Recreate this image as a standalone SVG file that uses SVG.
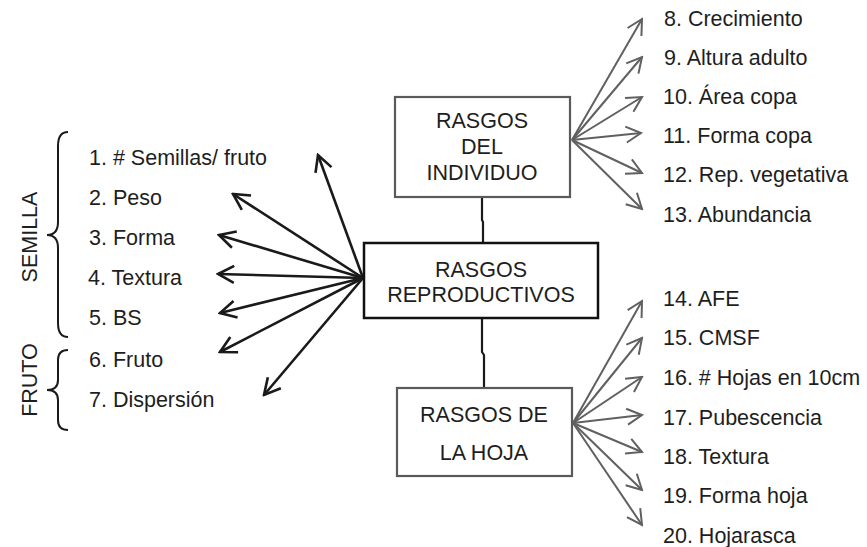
<svg xmlns="http://www.w3.org/2000/svg" width="867" height="547" viewBox="0 0 867 547">
<style>
text{font-family:"Liberation Sans",Arial,sans-serif;font-size:21.5px;fill:#1e1e1e}
.c{text-anchor:middle}
.box{fill:#fff;stroke:#111;stroke-width:2.5}
.gbox{fill:#fff;stroke:#5a5a5a;stroke-width:2.2}
.ka{stroke:#1a1a1a;stroke-width:2.6;fill:none;marker-end:url(#ak)}
.ga{stroke:#606060;stroke-width:2;fill:none;marker-end:url(#ag)}
.br{fill:none;stroke:#1a1a1a;stroke-width:2}
.ln{fill:none;stroke:#1a1a1a;stroke-width:2.2}
</style>
<defs>
<marker id="ak" markerUnits="userSpaceOnUse" viewBox="-20 -12 22 24" markerWidth="22" markerHeight="24" refX="0" refY="0" orient="auto">
<path d="M-16,-8.5 L0,0 L-16,8.5" fill="none" stroke="#1a1a1a" stroke-width="2.6"/>
</marker>
<marker id="ag" markerUnits="userSpaceOnUse" viewBox="-20 -12 22 24" markerWidth="22" markerHeight="24" refX="0" refY="0" orient="auto">
<path d="M-15,-8 L0,0 L-15,8" fill="none" stroke="#606060" stroke-width="2"/>
</marker>
</defs>
<g id="connectors">
<path class="ln" d="M482,197 V220 L483,222 V243"/>
<path class="ln" d="M482,318 V352 L484,355 V388"/>
<line class="ka" x1="363" y1="278" x2="318" y2="155"/>
<line class="ka" x1="363" y1="278" x2="233" y2="194"/>
<line class="ka" x1="363" y1="278" x2="219" y2="235"/>
<line class="ka" x1="363" y1="278" x2="218" y2="274"/>
<line class="ka" x1="363" y1="278" x2="220" y2="313"/>
<line class="ka" x1="363" y1="278" x2="220" y2="352"/>
<line class="ka" x1="363" y1="278" x2="264" y2="395"/>
<line class="ga" x1="572" y1="140" x2="642" y2="19"/>
<line class="ga" x1="572" y1="140" x2="642" y2="57"/>
<line class="ga" x1="572" y1="140" x2="642" y2="97"/>
<line class="ga" x1="572" y1="140" x2="641" y2="133"/>
<line class="ga" x1="572" y1="140" x2="642" y2="173"/>
<line class="ga" x1="572" y1="140" x2="642" y2="209"/>
<line class="ga" x1="573" y1="423" x2="642" y2="301"/>
<line class="ga" x1="573" y1="423" x2="642" y2="338"/>
<line class="ga" x1="573" y1="423" x2="642" y2="377"/>
<line class="ga" x1="573" y1="423" x2="642" y2="415"/>
<line class="ga" x1="573" y1="423" x2="642" y2="452"/>
<line class="ga" x1="573" y1="423" x2="642" y2="490"/>
<line class="ga" x1="573" y1="423" x2="642" y2="525"/>
</g>
<g id="n-reproductivos">
<rect class="box" x="364" y="243" width="234" height="75"/>
<text class="c" x="481" y="277">RASGOS</text>
<text class="c" x="481" y="302">REPRODUCTIVOS</text>
</g>
<g id="n-individuo">
<rect class="gbox" x="395" y="97" width="175" height="100"/>
<text class="c" x="482" y="128">RASGOS</text>
<text class="c" x="482" y="154">DEL</text>
<text class="c" x="482" y="180">INDIVIDUO</text>
</g>
<g id="n-hoja">
<rect class="gbox" x="397" y="388" width="175" height="88"/>
<text class="c" x="484" y="422">RASGOS DE</text>
<text class="c" x="484" y="460">LA HOJA</text>
</g>
<g id="semilla">
<path class="br" d="M68,132 Q58,132 58,146 V222 Q58,235 47,235 Q58,235 58,248 V323 Q58,337 68,337"/>
<text class="c" transform="translate(37,237) rotate(-90)">SEMILLA</text>
<text x="89" y="165">1. # Semillas/ fruto</text>
<text x="89" y="205">2. Peso</text>
<text x="89" y="245">3. Forma</text>
<text x="88" y="285">4. Textura</text>
<text x="89" y="325">5. BS</text>
</g>
<g id="fruto">
<path class="br" d="M68,350 Q58,350 58,360 V380 Q58,390 47,390 Q58,390 58,400 V420 Q58,430 68,430"/>
<text class="c" transform="translate(37,380) rotate(-90)">FRUTO</text>
<text x="89" y="367">6. Fruto</text>
<text x="89" y="407">7. Dispersión</text>
</g>
<g id="individuo-list">
<text x="664" y="26">8. Crecimiento</text>
<text x="664" y="65">9. Altura adulto</text>
<text x="663" y="104">10. Área copa</text>
<text x="663" y="143">11. Forma copa</text>
<text x="663" y="182">12. Rep. vegetativa</text>
<text x="663" y="222">13. Abundancia</text>
</g>
<g id="hoja-list">
<text x="663" y="306">14. AFE</text>
<text x="663" y="345">15. CMSF</text>
<text x="663" y="385">16. # Hojas en 10cm</text>
<text x="663" y="425">17. Pubescencia</text>
<text x="663" y="464">18. Textura</text>
<text x="663" y="503">19. Forma hoja</text>
<text x="663" y="543">20. Hojarasca</text>
</g>
</svg>
